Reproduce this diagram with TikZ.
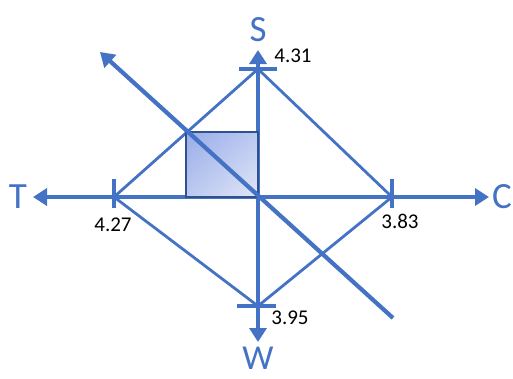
\documentclass[tikz,border=0pt]{standalone}
\usepackage{fontspec}
\setmainfont{Carlito}
\usetikzlibrary{arrows.meta,shadings}
\definecolor{ax}{RGB}{68,114,196}
\definecolor{sqedge}{RGB}{47,82,143}
\definecolor{gA}{RGB}{152,172,232}
\definecolor{gB}{RGB}{188,201,240}
\definecolor{gC}{RGB}{224,229,247}
\tikzset{
  axis/.style={draw=ax, line width=4.2pt, -{Triangle[length=14pt,width=17pt]}},
  tick/.style={draw=ax, line width=4.2pt},
  side/.style={draw=ax, line width=2.8pt},
  big/.style={text=ax, font=\fontsize{37}{37}\selectfont, inner sep=0pt},
  num/.style={text=black, font=\fontsize{21}{21}\selectfont, inner sep=0pt},
}
\begin{document}
\begin{tikzpicture}[x=1pt,y=-1pt]
\useasboundingbox (0,0) rectangle (513,378);
% key points
\coordinate (O) at (258,197);
\coordinate (Sv) at (258,69);
\coordinate (Wv) at (258,306);
\coordinate (Tv) at (114,197);
\coordinate (Cv) at (392,197);
\coordinate (Stip) at (258,50);
\coordinate (Wtip) at (258,342);
\coordinate (Ttip) at (33,197);
\coordinate (Ctip) at (489,197);
\coordinate (Dtip) at (100,52);
\coordinate (Dend) at (393,318);
% diamond
\draw[side] (Sv) -- (Cv) -- (Wv) -- (Tv) -- cycle;
% axes
\draw[axis] (O) -- (Stip);
\draw[axis] (O) -- (Wtip);
\draw[axis] (O) -- (Ttip);
\draw[axis] (O) -- (Ctip);
% ticks
\draw[tick] (239,69) -- (277,69);
\draw[tick] (237,306) -- (276,306);
\draw[tick] (114,179) -- (114,208);
\draw[tick] (392,179) -- (392,208);
% square
\shade[upper left=gA, upper right=gB, lower left=gB, lower right=gC]
  (186,132) rectangle (258,197);
\draw[sqedge, line width=1.8pt] (186,132) rectangle (258,197);
% diagonal
\draw[axis] (Dend) -- (Dtip);
% labels
\node[big] (S) at (258,30) {S};
\node[big] (T) at (18,197) {T};
\node[big] (C) at (502,197) {C};
\node[big, font=\fontsize{35}{35}\selectfont] (W) at (258,358) {W};
\node[num] (n431) at (293,56) {4.31};
\node[num] (n427) at (113,225) {4.27};
\node[num] (n383) at (400,221) {3.83};
\node[num] (n395) at (290,318) {3.95};
\end{tikzpicture}
\end{document}
